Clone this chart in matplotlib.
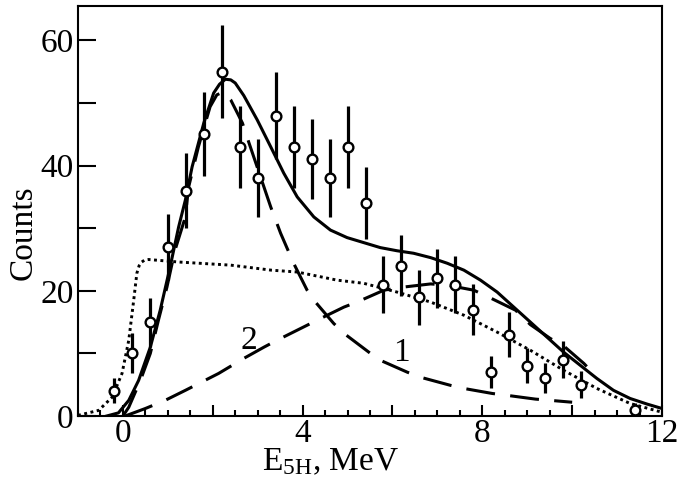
import matplotlib
matplotlib.use('Agg')
import matplotlib.pyplot as plt
from matplotlib.ticker import MultipleLocator

plt.rcParams['font.family'] = ['Liberation Serif', 'DejaVu Serif']
plt.rcParams['mathtext.fontset'] = 'custom'
plt.rcParams['mathtext.rm'] = 'Liberation Serif'
plt.rcParams['mathtext.it'] = 'Liberation Serif:italic'

# measured points
e_data = [-0.2, 0.2, 0.6, 1.0, 1.4, 1.8, 2.2, 2.6, 3.0, 3.4, 3.8, 4.2, 4.6, 5.0,
          5.4, 5.8, 6.2, 6.6, 7.0, 7.4, 7.8, 8.2, 8.6, 9.0, 9.4, 9.8, 10.2, 11.4]
counts = [4, 10, 15, 27, 36, 45, 55, 43, 38, 48, 43, 41, 38, 43,
          34, 21, 24, 19, 22, 21, 17, 7, 13, 8, 6, 9, 5, 1]
errors = [2.0, 3.2, 3.9, 5.2, 6.0, 6.7, 7.4, 6.6, 6.2, 6.9, 6.6, 6.4, 6.2, 6.6,
          5.8, 4.6, 4.9, 4.4, 4.7, 4.6, 4.1, 2.6, 3.6, 2.8, 2.4, 3.0, 2.2, 1.0]

# total fit (solid)
tot_x = [-0.36, -0.1, 0.13, 0.35, 0.61, 0.83, 1.05, 1.24, 1.39, 1.54, 1.8, 2.02,
         2.15, 2.28, 2.4, 2.5, 2.69, 2.99, 3.29, 3.58, 3.88, 4.25, 4.62, 4.99,
         5.36, 5.73, 6.1, 6.47, 6.85, 7.22, 7.59, 7.96, 8.33, 8.7, 9.07, 9.44,
         9.81, 10.18, 10.55, 10.92, 11.29, 11.67, 12.0]
tot_y = [0.0, 0.5, 2.5, 5.7, 11.0, 16.9, 23.8, 30.2, 34.5, 39.8, 46.8, 51.6,
         53.0, 53.8, 53.7, 53.2, 51.2, 47.3, 43.0, 38.8, 35.0, 31.8, 29.7, 28.5,
         27.7, 26.9, 26.4, 26.0, 25.3, 24.4, 23.3, 21.7, 19.8, 17.4, 15.0, 12.6,
         10.2, 8.1, 6.0, 4.1, 2.8, 1.9, 1.2]

# component 1 (dashed)
c1_x = [0.0, 0.13, 0.39, 0.61, 0.79, 0.98, 1.16, 1.39, 1.46, 1.68, 1.94, 2.09,
        2.24, 2.4, 2.66, 2.77, 3.29, 3.51, 3.8, 4.1, 4.25, 4.69, 4.92, 5.51,
        5.73, 6.33, 6.62, 7.29, 7.59, 8.22, 8.55, 9.18, 9.51, 10.0]
c1_y = [0.0, 1.4, 5.7, 10.0, 15.3, 20.6, 26.5, 31.8, 36.5, 43.0, 49.4, 51.3,
        51.8, 50.5, 46.8, 44.4, 33.4, 29.2, 24.4, 20.1, 18.5, 14.8, 13.2, 10.0,
        8.9, 7.0, 6.2, 4.9, 4.4, 3.6, 3.3, 2.7, 2.5, 2.2]

# component 2 (dashed)
c2_x = [0.05, 0.5, 0.94, 1.39, 2.13, 2.69, 3.14, 3.43, 4.1, 4.32, 4.92, 5.21,
        5.81, 6.25, 6.85, 7.22, 7.81, 8.14, 8.74, 9.07, 9.51, 9.81, 10.26, 10.55]
c2_y = [0.0, 1.2, 2.5, 4.1, 6.8, 9.2, 11.0, 12.1, 14.5, 15.3, 17.4, 18.2,
        20.1, 20.6, 21.1, 20.9, 20.1, 19.0, 16.9, 14.6, 12.4, 11.2, 8.4, 6.2]

# dotted curve
dot_x = [-1.0, -0.54, -0.24, -0.02, 0.13, 0.24, 0.31, 0.36, 0.42, 0.48, 0.57,
         1.24, 2.4, 3.3, 3.88, 4.77, 5.36, 6.1, 6.85, 7.59, 8.33, 9.07, 9.81,
         10.55, 11.29, 12.0]
dot_y = [0.1, 0.9, 3.0, 6.8, 12.1, 18.5, 22.8, 24.0, 24.6, 24.9, 25.0,
         24.6, 24.1, 23.3, 23.0, 21.7, 21.2, 19.8, 18.2, 16.1, 13.4, 10.5, 7.3,
         4.4, 2.0, 0.6]

fig = plt.figure(figsize=(6.87, 4.84), dpi=100)
ax = fig.add_axes([78 / 687, 1 - 416 / 484, 584 / 687, 410 / 484])

ax.plot(dot_x, dot_y, color='black', lw=2.1, linestyle=(0, (1, 1.2)))
ax.plot(c1_x, c1_y, color='black', lw=2.2, dashes=(9.5, 5))
ax.plot(c2_x, c2_y, color='black', lw=2.2, dashes=(9.5, 5))
ax.plot(tot_x, tot_y, color='black', lw=2.2)
ax.errorbar(e_data, counts, yerr=errors, fmt='o', color='black', ms=7,
            mfc='white', mec='black', mew=1.7, elinewidth=2.3, capsize=0, zorder=5)

ax.text(2.8, 12.1, '2', fontsize=24, ha='center', va='center')
ax.text(6.2, 10.1, '1', fontsize=24, ha='center', va='center')

ax.set_xlim(-1, 12)
ax.set_ylim(0, 65.5)
ax.set_xticks([0, 2, 4, 6, 8, 10, 12], labels=['0', '', '4', '', '8', '', '12'])
ax.xaxis.set_minor_locator(MultipleLocator(0.5))
ax.set_yticks([0, 10, 20, 30, 40, 50, 60], labels=['0', '', '20', '', '40', '', '60'])
ax.tick_params(axis='both', which='both', direction='in', width=1.5, labelsize=24)
ax.tick_params(axis='x', which='major', length=8, pad=2)
ax.tick_params(axis='x', which='minor', length=4)
ax.tick_params(axis='y', which='major', length=13, pad=3)
for s in ax.spines.values():
    s.set_linewidth(1.5)

ax.set_xlabel(r'E$_{\mathrm{5H}}$, MeV', fontsize=24)
ax.xaxis.set_label_coords(0.433, -0.074)
ax.set_ylabel('Counts', fontsize=24)
ax.yaxis.set_label_coords(-0.068, 0.448)

fig.savefig('out.png', dpi=100)
